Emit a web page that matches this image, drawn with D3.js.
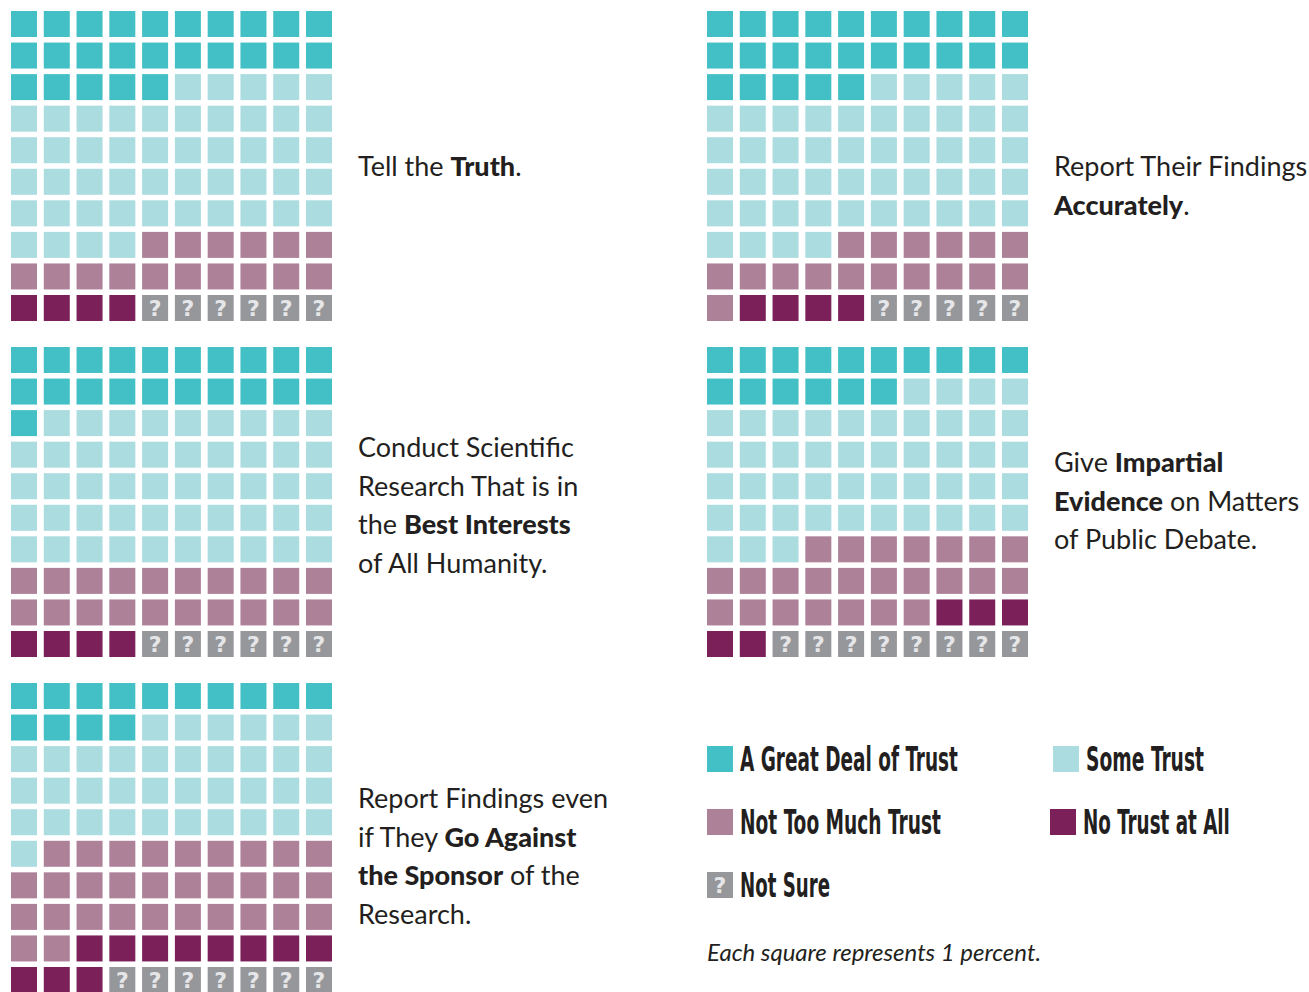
<!DOCTYPE html>
<html>
<head>
<meta charset="utf-8">
<script src="https://cdn.jsdelivr.net/npm/d3@7"></script>
<style>
  html, body { margin: 0; padding: 0; background: #fff; }
  svg { display: block; }
</style>
</head>
<body>
<svg id="chart" width="1309" height="992"></svg>
<script>
// ---------- DATA ----------
const categories = ["A Great Deal of Trust", "Some Trust", "Not Too Much Trust", "No Trust at All", "Not Sure"];
const statements = ["Tell the Truth", "Report Their Findings Accurately", "Conduct Scientific Research in Best Interests", "Give Impartial Evidence", "Report Findings Against Sponsor"];
const greatDeal  = [25, 25, 21, 16, 14];
const someTrust  = [49, 49, 49, 47, 37];
const notTooMuch = [16, 17, 20, 24, 31];
const noTrust    = [4, 4, 4, 5, 11];
const notSure    = [6, 5, 6, 8, 7];
// label lines: [text, bold]
const labelLines = [
  [[["Tell the ", 0], ["Truth", 1], [".", 0]]],
  [[["Report Their Findings", 0]], [["Accurately", 1], [".", 0]]],
  [[["Conduct Scientific", 0]], [["Research That is in", 0]], [["the ", 0], ["Best Interests", 1]], [["of All Humanity.", 0]]],
  [[["Give ", 0], ["Impartial", 1]], [["Evidence", 1], [" on Matters", 0]], [["of Public Debate.", 0]]],
  [[["Report Findings even", 0]], [["if They ", 0], ["Go Against", 1]], [["the Sponsor", 1], [" of the", 0]], [["Research.", 0]]]
];
const footnote = "Each square represents 1 percent.";

// ---------- STYLE / LAYOUT ----------
const colors = ["#42C0C5", "#AADCE0", "#AD8299", "#7B2059", "#96979B"];
const textColor = "#231F20";
const panelPos = [[11, 11], [707, 11], [11, 347], [707, 347], [11, 683]];
const labelOffset = [[347, 165], [347, 165], [347, 110], [347, 125], [347, 125]];
const lineH = 38.7;

const series = [greatDeal, someTrust, notTooMuch, noTrust, notSure];
const svg = d3.select("#chart");

const xCell = d3.scaleBand().domain(d3.range(10)).range([0, 321]).paddingInner(1 - 26 / 32.78).paddingOuter(0);
const yCell = d3.scaleBand().domain(d3.range(10)).range([0, 310]).paddingInner(1 - 26 / 31.56).paddingOuter(0);
const color = d3.scaleOrdinal().domain(d3.range(5)).range(colors);

statements.forEach((s, p) => {
  const cells = [];
  series.forEach((arr, c) => { for (let k = 0; k < arr[p]; k++) cells.push(c); });
  const g = svg.append("g").attr("transform", `translate(${panelPos[p][0]},${panelPos[p][1]})`);
  const cell = g.selectAll("g.cell").data(cells).join("g").attr("class", "cell")
    .attr("transform", (d, i) => `translate(${xCell(i % 10)},${yCell(Math.floor(i / 10))})`);
  cell.append("rect")
    .attr("width", xCell.bandwidth()).attr("height", yCell.bandwidth())
    .attr("fill", d => color(d));
  cell.filter(d => d === 4).append("text")
    .attr("x", xCell.bandwidth() / 2).attr("y", yCell.bandwidth() / 2 + 8)
    .attr("text-anchor", "middle")
    .attr("font-family", "'DejaVu Sans', sans-serif").attr("font-weight", "bold")
    .attr("font-size", 22).attr("fill", "#E6E6E8").text("?");

  // label
  const lg = svg.append("g");
  labelLines[p].forEach((line, li) => {
    const t = lg.append("text")
      .attr("x", panelPos[p][0] + labelOffset[p][0])
      .attr("y", panelPos[p][1] + labelOffset[p][1] + li * lineH)
      .attr("font-family", "Lato, 'Open Sans', sans-serif")
      .attr("font-size", 27).attr("fill", textColor);
    line.forEach(seg => {
      t.append("tspan").attr("font-weight", seg[1] ? 900 : 400).text(seg[0]);
    });
  });
});

// ---------- LEGEND ----------
const legendPos = [
  { sx: 707, sy: 746, tx: 740, ty: 771, w: 218 },
  { sx: 1053, sy: 746, tx: 1086, ty: 771, w: 118 },
  { sx: 707, sy: 809, tx: 740, ty: 834, w: 201 },
  { sx: 1050, sy: 809, tx: 1083, ty: 834, w: 147 },
  { sx: 707, sy: 872, tx: 740, ty: 897, w: 90 }
];
const leg = svg.append("g").selectAll("g").data(categories).join("g");
leg.append("rect")
  .attr("x", (d, i) => legendPos[i].sx).attr("y", (d, i) => legendPos[i].sy)
  .attr("width", 26).attr("height", 26)
  .attr("fill", (d, i) => color(i));
leg.filter((d, i) => i === 4).append("text")
  .attr("x", 707 + 13).attr("y", 872 + 21)
  .attr("text-anchor", "middle")
  .attr("font-family", "'DejaVu Sans', sans-serif").attr("font-weight", "bold")
  .attr("font-size", 22).attr("fill", "#E6E6E8").text("?");
leg.append("text")
  .attr("x", 0).attr("y", 0)
  .attr("font-family", "'DejaVu Sans Condensed', 'Liberation Sans Narrow', sans-serif")
  .attr("font-weight", "bold").attr("font-size", 33)
  .attr("fill", textColor)
  .text(d => d)
  .each(function(d, i) {
    const natural = this.getComputedTextLength();
    const sx = legendPos[i].w / natural;
    d3.select(this).attr("transform", `translate(${legendPos[i].tx},${legendPos[i].ty}) scale(${sx},1)`);
  });

svg.append("text")
  .attr("x", 707).attr("y", 961)
  .attr("font-family", "Lato, 'Open Sans', sans-serif").attr("font-style", "italic")
  .attr("font-size", 23).attr("fill", textColor)
  .attr("textLength", 334).attr("lengthAdjust", "spacingAndGlyphs")
  .text(footnote);
</script>
</body>
</html>
